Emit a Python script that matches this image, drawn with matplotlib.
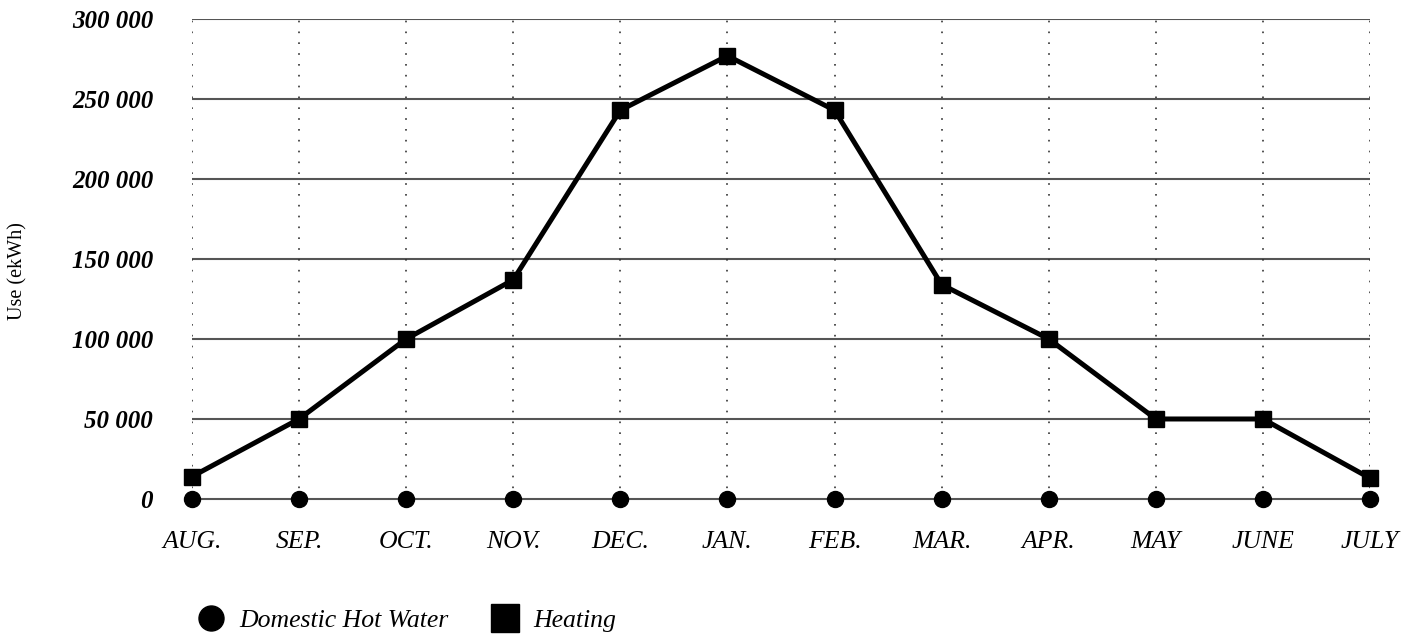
import matplotlib
matplotlib.use("Agg")
import matplotlib.pyplot as plt
from matplotlib.lines import Line2D
from matplotlib.ticker import FuncFormatter

months = ["AUG.", "SEP.", "OCT.", "NOV.", "DEC.", "JAN.", "FEB.", "MAR.",
          "APR.", "MAY", "JUNE", "JULY"]
hot_water = [0, 0, 0, 0, 0, 0, 0, 0, 0, 0, 0, 0]
heating = [14000, 50000, 100000, 137000, 243000, 277000, 243000, 134000,
           100000, 50000, 50000, 13000]
y_ticks = [0, 50000, 100000, 150000, 200000, 250000, 300000]

serif = "Liberation Serif"

fig = plt.figure(figsize=(14.24, 6.38), dpi=100)
ax = fig.add_axes([0.1348, 0.2179, 0.8273, 0.7523])

x = list(range(len(months)))

# grid: solid horizontal lines, dotted verticals at each month
for yv in y_ticks[1:]:
    ax.axhline(yv, color="#555555", lw=1.5, zorder=1)
for xv in x:
    ax.axvline(xv, color="#333333", lw=1.2, linestyle=(0, (1, 5.5)), zorder=1)

ax.plot(x, hot_water, color="#555555", lw=1.5, marker="o", markersize=11.5,
        markerfacecolor="black", markeredgecolor="black", clip_on=False, zorder=3)
ax.plot(x, heating, color="black", lw=3.6, marker="s", markersize=11.5,
        markerfacecolor="black", markeredgecolor="black", clip_on=False, zorder=4)

ax.set_xlim(0, len(months) - 1)
ax.set_ylim(0, 300000)
ax.set_xticks(x)
ax.set_xticklabels(months, fontfamily=serif, fontstyle="italic", fontsize=18.5)
ax.set_yticks(y_ticks)
ax.yaxis.set_major_formatter(FuncFormatter(lambda v, p: f"{int(v):,}".replace(",", " ")))
for lab in ax.get_yticklabels():
    lab.set_fontfamily(serif)
    lab.set_fontstyle("italic")
    lab.set_fontweight("bold")
    lab.set_fontsize(18)
ax.tick_params(axis="x", length=0, pad=23)
ax.tick_params(axis="y", length=0, pad=28)
for s in ax.spines.values():
    s.set_visible(False)

fig.text(0.0126, 0.575, "Use (ekWh)", rotation=90, ha="center", va="center",
         fontfamily=serif, fontsize=14.5)

handles = [
    Line2D([], [], linestyle="none", marker="o", markersize=18,
           markerfacecolor="black", markeredgecolor="black"),
    Line2D([], [], linestyle="none", marker="s", markersize=19.5,
           markerfacecolor="black", markeredgecolor="black"),
]
fig.legend(handles, ["Domestic Hot Water", "Heating"], loc="center left",
           bbox_to_anchor=(0.123, 0.028), ncol=2, frameon=False,
           handlelength=1.0, handletextpad=0.6, columnspacing=1.7,
           prop={"family": serif, "style": "italic", "size": 18.5})

fig.savefig("out.png", dpi=100)
